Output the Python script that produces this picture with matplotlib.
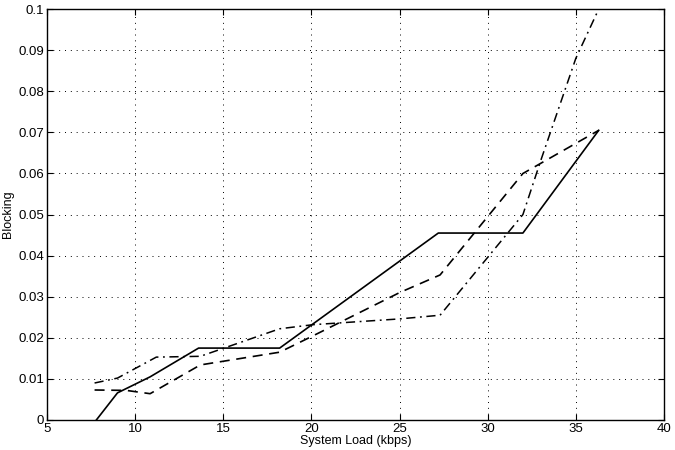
import matplotlib.pyplot as plt

plt.rcParams['font.family'] = ['Liberation Sans', 'DejaVu Sans']

# solid curve
load_a = [7.8, 9.0, 10.85, 13.6, 18.2, 27.2, 32.0, 36.3]
block_a = [0.0, 0.0066, 0.0105, 0.0175, 0.0175, 0.0455, 0.0455, 0.0705]

# dashed curve
load_b = [7.7, 9.5, 10.85, 13.7, 18.2, 20.1, 25.0, 27.3, 32.0, 36.3]
block_b = [0.0073, 0.0072, 0.0064, 0.0134, 0.0165, 0.0205, 0.031, 0.0353, 0.0600, 0.0705]

# dash-dot curve
load_c = [7.7, 9.0, 11.2, 13.7, 18.2, 20.1, 25.0, 27.3, 32.0, 33.0, 35.0, 36.3]
block_c = [0.009, 0.0102, 0.0153, 0.0155, 0.0222, 0.0232, 0.0246, 0.0255, 0.050, 0.063, 0.088, 0.100]

fig = plt.figure(figsize=(6.75, 4.5), dpi=100)
ax = fig.add_axes([0.0696, 0.0667, 0.914, 0.913])

ax.plot(load_a, block_a, color='black', linestyle='-', linewidth=1.2)
ax.plot(load_b, block_b, color='black', linestyle=(0, (6, 4)), linewidth=1.2)
ax.plot(load_c, block_c, color='black', linestyle=(0, (6, 3, 1.2, 3)), linewidth=1.1)

ax.set_xlim(5, 40)
ax.set_ylim(0, 0.1)
ax.set_xticks(range(5, 41, 5))
ax.set_yticks([i / 100 for i in range(0, 11)])
ax.set_yticklabels(['0'] + ['%.2f' % (i / 100) for i in range(1, 10)] + ['0.1'])
ax.grid(True, linestyle=(0, (1, 5)), color='black', linewidth=0.7)
ax.tick_params(direction='in', length=4, labelsize=9.5, pad=2, top=True, right=True,
               labeltop=False, labelright=False)
for s in ax.spines.values():
    s.set_linewidth(1.0)

ax.set_xlabel('System Load (kbps)', fontsize=9, labelpad=0)
ax.set_ylabel('Blocking', fontsize=9, labelpad=3)

fig.savefig('out.png', dpi=100)
